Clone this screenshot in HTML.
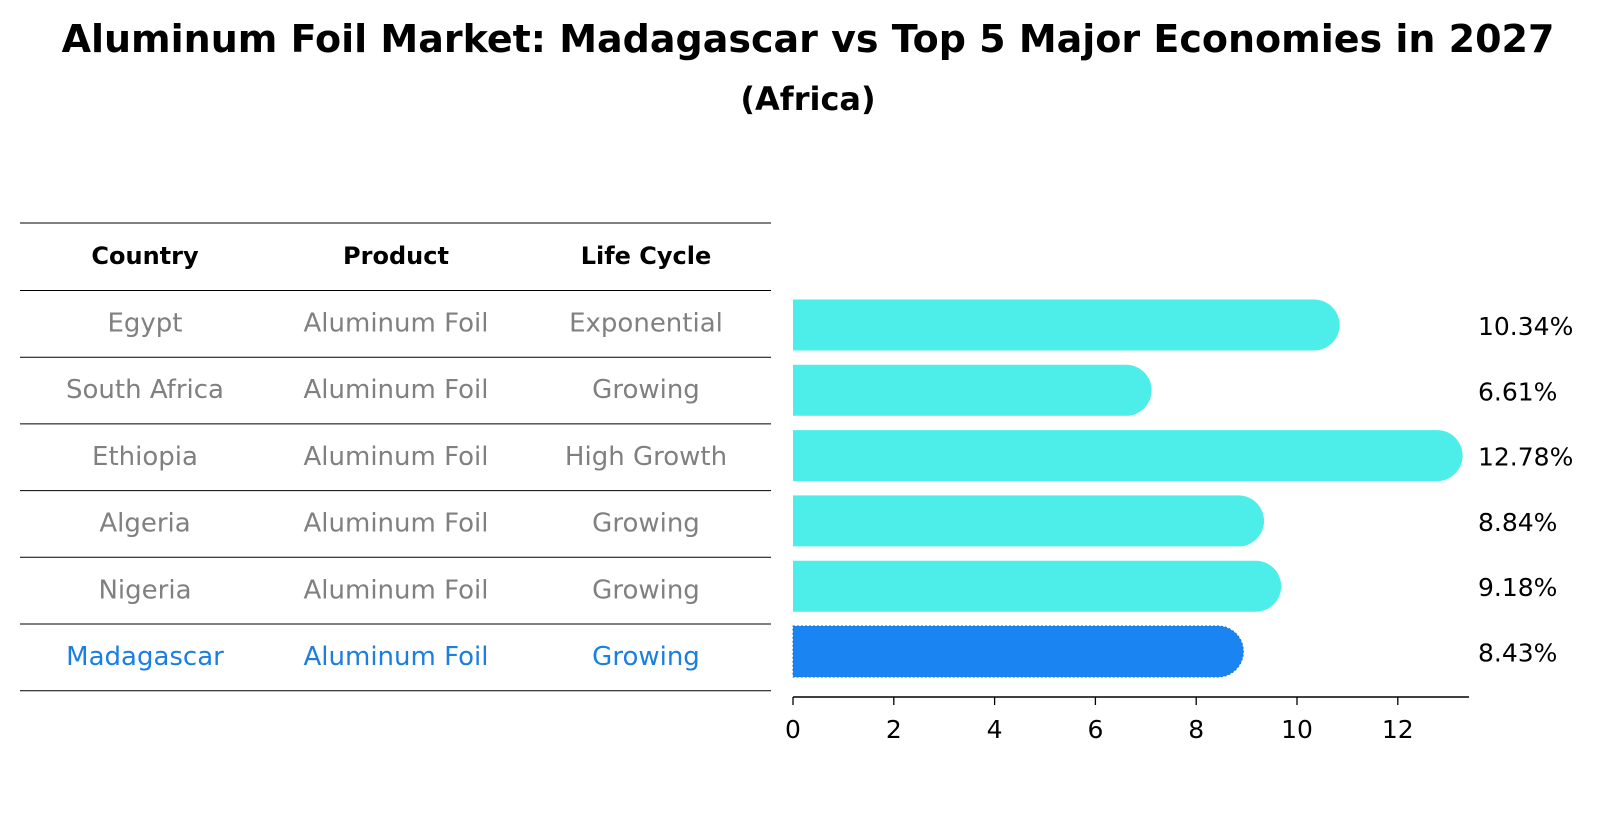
<!DOCTYPE html>
<html><head><meta charset="utf-8"><style>
body{margin:0;background:#fff;font-family:"DejaVu Sans","Liberation Sans",sans-serif;}
svg text{font-family:"DejaVu Sans","Liberation Sans",sans-serif;}
</style></head><body>
<svg id="chart" width="1604" height="823" viewBox="0 0 1604 823" xmlns="http://www.w3.org/2000/svg">
<text x="808" y="52" text-anchor="middle" font-size="38" font-weight="bold">Aluminum Foil Market: Madagascar vs Top 5 Major Economies in 2027</text>
<text x="808" y="110" text-anchor="middle" font-size="32" font-weight="bold">(Africa)</text>
<g id="table"></g>
<g id="bars"></g>
</svg>
<script>
const countries=["Egypt","South Africa","Ethiopia","Algeria","Nigeria","Madagascar"];
const products=["Aluminum Foil","Aluminum Foil","Aluminum Foil","Aluminum Foil","Aluminum Foil","Aluminum Foil"];
const lifeCycles=["Exponential","Growing","High Growth","Growing","Growing","Growing"];
const values=[10.34,6.61,12.78,8.84,9.18,8.43];
const ticks=[0,2,4,6,8,10,12];
const NS="http://www.w3.org/2000/svg";
function mk(tag,attrs,parent,txt){const e=document.createElementNS(NS,tag);for(const k in attrs)e.setAttribute(k,attrs[k]);if(txt!==undefined)e.textContent=txt;parent.appendChild(e);return e;}
const table=document.getElementById('table');
const bars=document.getElementById('bars');
const rowY=i=>290.5+i*66.7;
const colX=[145,396,646];
for(let i=0;i<8;i++){
  const y=i===0?223:rowY(i-1);
  const l=mk('line',{x1:20,x2:771,y1:y,y2:y,stroke:'#000','stroke-width':1},table);
  
  
}
const heads=["Country","Product","Life Cycle"];
heads.forEach((h,j)=>{
  const t=mk('text',{x:colX[j],y:264,'text-anchor':'middle','font-size':24,'font-weight':'bold'},table,h);
  
  
});
countries.forEach((c,i)=>{
  const col=i===countries.length-1?'#1a7fe0':'#808080';
  const y=rowY(i)+41;
  [c,products[i],lifeCycles[i]].forEach((v,j)=>{
    const t=mk('text',{x:colX[j],y:y,'text-anchor':'middle','font-size':26,fill:col},table,v);
    
    
  });
});
const x0=793,unit=50.4;
const xs=v=>x0+v*unit;
const barY=i=>325+i*65.3;
const h=51;
values.forEach((v,i)=>{
  const last=i===values.length-1;
  const col=last?'#1a85f2':'#4deeea';
  const cy=barY(i), x1=xs(v), r=h/2;
  const d=`M${x0},${cy-r} L${x1},${cy-r} A${r},${r} 0 0 1 ${x1},${cy+r} L${x0},${cy+r} Z`;
  const p=mk('path',{d:d,fill:col},bars);
  if(last){p.setAttribute('stroke','#1a6fd0');p.setAttribute('stroke-dasharray','2,2');p.setAttribute('stroke-width','1');}
  
  
  const t=mk('text',{x:1478,y:cy+10,'font-size':25,fill:'#000'},bars,v.toFixed(2)+'%');
  
  
});
const ax=mk('line',{x1:x0,x2:1469,y1:697,y2:697,stroke:'#000','stroke-width':1.5},bars);


ticks.forEach(tk=>{
  const tl=mk('line',{x1:xs(tk),x2:xs(tk),y1:697,y2:705,stroke:'#000','stroke-width':1.3},bars);
  
  
  const t=mk('text',{x:xs(tk),y:738,'text-anchor':'middle','font-size':25},bars,String(tk));
  
  
});
</script>
</body></html>
